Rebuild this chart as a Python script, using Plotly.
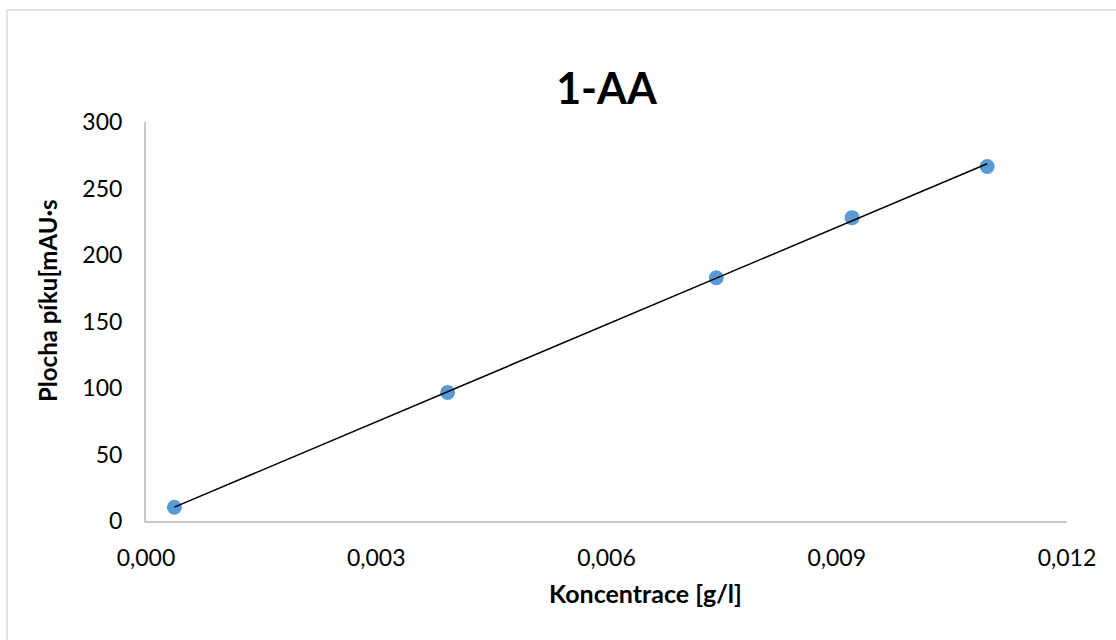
import numpy as np
import plotly.graph_objects as go

# Calibration data for 1-AA
konc = [0.00037, 0.00393, 0.00743, 0.00920, 0.01096]   # g/l
plocha = [10.3, 96.7, 182.9, 228.1, 266.5]              # mAU·s

x_ticks = [0.0, 0.003, 0.006, 0.009, 0.012]
x_tick_text = ["0,000", "0,003", "0,006", "0,009", "0,012"]
y_ticks = [0, 50, 100, 150, 200, 250, 300]

# Linear trendline (least squares) across the measured range
k, q = np.polyfit(konc, plocha, 1)
trend_x = [min(konc), max(konc)]
trend_y = [k * v + q for v in trend_x]

FONT = "Lato, 'Open Sans', sans-serif"

fig = go.Figure()
fig.add_trace(go.Scatter(
    x=konc, y=plocha, mode="markers",
    marker=dict(color="#5b9bd5", size=15, line=dict(width=0)),
    showlegend=False,
))
fig.add_trace(go.Scatter(
    x=trend_x, y=trend_y, mode="lines",
    line=dict(color="black", width=1.5),
    showlegend=False,
))

L, R, T, B = 146, 49, 122, 119
W, H = 1116, 640
pw, ph = W - L - R, H - T - B


def px_x(p):
    return (p - L) / pw


def px_y(p):
    return (H - B - p) / ph


fig.update_layout(
    width=W, height=H,
    margin=dict(l=L, r=R, t=T, b=B),
    paper_bgcolor="white", plot_bgcolor="white",
    font=dict(family=FONT, color="black", size=23),
    title=dict(text="<b>1-AA</b>", x=(L + pw / 2) / W, xanchor="center",
               y=1 - 89 / H, yanchor="middle",
               font=dict(size=43, family=FONT, color="black")),
    xaxis=dict(
        range=[0, 0.012], tickvals=x_ticks, ticktext=x_tick_text,
        showgrid=False, zeroline=False, showline=True,
        linecolor="#c8c8c8", linewidth=2, ticks="", ticklen=0,
        tickfont=dict(size=23), ticklabelstandoff=15,
    ),
    yaxis=dict(
        range=[0, 300], tickvals=y_ticks,
        showgrid=False, zeroline=False, showline=True,
        linecolor="#c8c8c8", linewidth=2, ticks="",
        tickfont=dict(size=23), ticklabelstandoff=17,
    ),
    annotations=[
        dict(text="<b>Koncentrace [g/l]</b>", xref="paper", yref="paper",
             x=px_x(645), y=px_y(593), xanchor="center", yanchor="middle",
             showarrow=False, font=dict(size=25, family=FONT, color="black")),
        dict(text="<b>Plocha píku[mAU·s</b>", xref="paper", yref="paper",
             x=px_x(47), y=px_y(301), xanchor="center", yanchor="middle",
             textangle=-90, showarrow=False,
             font=dict(size=24, family=FONT, color="black")),
    ],
    shapes=[dict(
        type="rect", xref="paper", yref="paper",
        x0=px_x(7), x1=px_x(W + 20),
        y0=px_y(H + 20), y1=px_y(10),
        line=dict(color="#d9d9d9", width=1.5), fillcolor="rgba(0,0,0,0)",
        layer="below",
    )],
)

fig.write_html("out.html")
